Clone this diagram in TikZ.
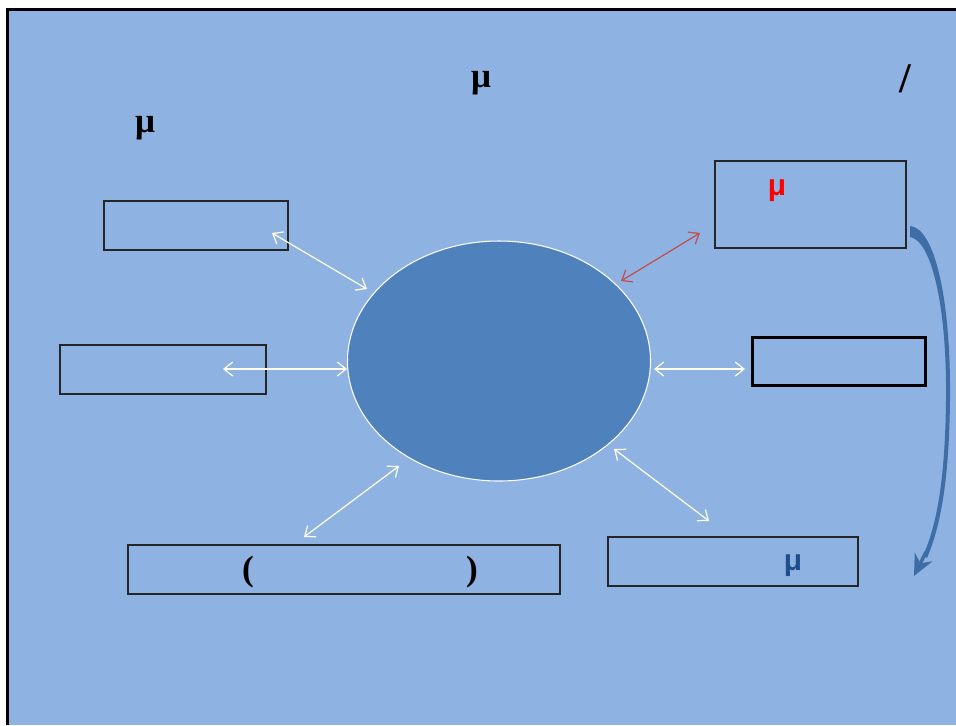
\documentclass[tikz,border=0pt]{standalone}
\usepackage{fontspec}
\setmainfont{Liberation Serif}
\usetikzlibrary{arrows.meta,shapes.geometric}
\definecolor{bgblue}{HTML}{8EB3E2}
\definecolor{ellblue}{HTML}{4F81BD}
\definecolor{redline}{HTML}{C0504D}
\definecolor{curveblue}{HTML}{3F6EA6}
\definecolor{darkmu}{HTML}{1F4E8C}
\tikzset{
  box/.style={draw=black!85, line width=0.8pt, inner sep=0pt},
  thickbox/.style={draw=black, line width=1.7pt, inner sep=0pt},
  lbl/.style={font=\fontsize{20}{22}\selectfont\bfseries, inner sep=0pt},
  dbl/.style={draw=white!92!yellow, line width=0.7pt,
    {Straight Barb[length=5pt,width=8pt]}-{Straight Barb[length=5pt,width=8pt]}},
}
\begin{document}
\begin{tikzpicture}[x=0.02cm,y=-0.02cm]
\useasboundingbox (0,0) rectangle (956,725);
\fill[white] (0,0) rectangle (956,725);
\fill[bgblue] (8,10) rectangle (956,725);
\draw[black, line width=1.7pt] (7.5,725) -- (7.5,9.5) -- (956,9.5);

% titles
\node[lbl] (t1) at (481,83) {μ};
\node[lbl] (t2) at (145,128) {μ};
\node[lbl, font=\fontsize{24}{26}\selectfont\bfseries] (t3) at (905,79) {/};

% central ellipse
\node[draw=white, line width=0.6pt, fill=ellblue, ellipse, minimum width=303*0.02cm, minimum height=240*0.02cm, inner sep=0pt] (c) at (499,361) {};

% boxes
\node[box, minimum width=184*0.02cm, minimum height=49*0.02cm] (b1) at (196,225.5) {};
\node[box, minimum width=206*0.02cm, minimum height=49*0.02cm] (b2) at (163,369.5) {};
\node[box, minimum width=432*0.02cm, minimum height=49*0.02cm] (b3) at (344,569.5) {};
\node[box, minimum width=250*0.02cm, minimum height=49*0.02cm] (b4) at (733,561.5) {};
\node[box, minimum width=191*0.02cm, minimum height=87*0.02cm] (b5) at (810.5,204.5) {};
\node[thickbox, minimum width=173*0.02cm, minimum height=48*0.02cm] (b6) at (838.5,361) {};

% box texts
\node[lbl] (p1) at (248,572) {(};
\node[lbl] (p2) at (472,572) {)};
\node[lbl, text=darkmu, font=\fontsize{17}{19}\selectfont\bfseries\fontspec{Liberation Sans}] (m4) at (793,566) {μ};
\node[lbl, text=red, font=\fontsize{17}{19}\selectfont\bfseries\fontspec{Liberation Sans}] (m5) at (777,191) {μ};

% arrow endpoints
\coordinate (a1s) at (272,233); \coordinate (a1e) at (367,289);
\coordinate (a2s) at (223,369); \coordinate (a2e) at (347,369);
\coordinate (a3s) at (654,369); \coordinate (a3e) at (745,369);
\coordinate (a4s) at (399,466); \coordinate (a4e) at (304,537);
\coordinate (a5s) at (614,449); \coordinate (a5e) at (709,521);
\coordinate (a6s) at (700,233); \coordinate (a6e) at (621,281);

\draw[dbl] (a1s) -- (a1e);
\draw[dbl] (a2s) -- (a2e);
\draw[dbl] (a3s) -- (a3e);
\draw[dbl] (a4s) -- (a4e);
\draw[dbl] (a5s) -- (a5e);
\draw[dbl, draw=redline] (a6s) -- (a6e);

% curved arrow
\coordinate (cs) at (912,229);
\coordinate (ce) at (914,576);
\fill[curveblue] (910,226) .. controls (935,228) and (951,300) .. (950,400)
  .. controls (949,480) and (941,525) .. (927,558)
  -- (923,556) .. controls (937,524) and (945,480) .. (946,400)
  .. controls (947,300) and (930,240) .. (910,237) -- cycle;
\draw[curveblue, line width=2pt, -{Stealth[length=12pt,width=11pt]}] (926,552) -- (ce);
\end{tikzpicture}
\end{document}
